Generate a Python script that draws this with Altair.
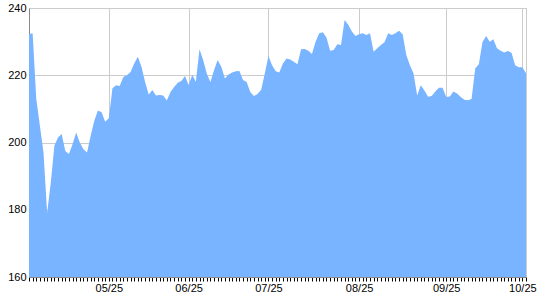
import altair as alt
import pandas as pd

values = [
    232.3, 232.5, 213.0, 205.0, 197.0, 179.0, 188.0, 199.0, 201.5, 202.5,
    197.5, 196.6, 199.5, 203.0, 200.0, 198.0, 197.0, 202.0, 206.5, 209.5,
    209.0, 206.2, 207.2, 216.1, 217.0, 216.8, 219.5, 220.0, 221.0, 223.5,
    225.5, 222.5, 218.0, 214.3, 215.6, 214.0, 214.1, 214.0, 212.5, 215.0,
    216.5, 217.8, 218.3, 219.8, 217.1, 220.1, 218.1, 227.7, 224.5, 220.5,
    218.0, 221.5, 224.5, 222.5, 219.0, 220.2, 220.8, 221.2, 221.3, 218.6,
    218.0, 215.0, 213.8, 214.4, 215.7, 220.5, 225.7, 223.0, 221.2, 220.8,
    223.5, 225.0, 224.7, 224.0, 223.3, 227.7, 227.8, 227.3, 226.3, 230.0,
    232.5, 232.8, 231.2, 227.3, 227.5, 229.2, 229.0, 236.4, 235.0, 233.0,
    231.7, 232.2, 232.5, 232.0, 232.5, 227.0, 228.0, 229.0, 229.8, 232.5,
    232.0, 232.5, 233.2, 232.2, 226.0, 223.0, 220.5, 214.0, 217.0, 215.5,
    213.6, 213.8, 215.2, 216.3, 216.3, 213.5, 213.7, 215.2, 214.6, 213.5,
    212.7, 212.6, 212.9, 222.0, 223.3, 229.8, 231.7, 230.0, 230.7, 228.0,
    227.3, 226.8, 227.2, 226.7, 223.0, 222.4, 222.4, 220.6,
]
label_positions = [22, 44, 66, 91, 115, 136]
tick_labels = ["05/25", "06/25", "07/25", "08/25", "09/25", "10/25"]
y_ticks = [160, 180, 200, 220, 240]

n = len(values)
df = pd.DataFrame({"idx": list(range(n)), "value": values})

pos_arr = "[" + ",".join(str(p) for p in label_positions) + "]"
lab_arr = "[" + ",".join("'" + t + "'" for t in tick_labels) + "]"
label_expr = f"indexof({pos_arr}, datum.value) >= 0 ? {lab_arr}[indexof({pos_arr}, datum.value)] : ''"
grid_test = f"indexof({pos_arr}, datum.value) >= 0"

chart = alt.Chart(df).mark_area(color="#78b4ff", clip=True, interpolate="linear").encode(
    x=alt.X(
        "idx:Q",
        scale=alt.Scale(domain=[0, n - 1], nice=False, zero=False),
        axis=alt.Axis(
            values=list(range(n)),
            labelExpr=label_expr,
            labelOverlap=False,
            labelFlush=False,
            tickSize=4,
            tickColor="black",
            grid=True,
            gridColor="#cccccc",
            gridOpacity={"condition": {"test": grid_test, "value": 1}, "value": 0},
            domainColor="#888888",
            labelFont="Liberation Sans",
            labelFontSize=11,
            labelColor="black",
            labelPadding=1,
            title=None,
        ),
    ),
    y=alt.Y(
        "value:Q",
        scale=alt.Scale(domain=[160, 240], nice=False, zero=False),
        axis=alt.Axis(
            values=y_ticks,
            tickSize=0,
            grid=True,
            gridColor="#cccccc",
            domainColor="#888888",
            labelFont="Liberation Sans",
            labelFontSize=11,
            labelColor="black",
            labelPadding=3,
            title=None,
        ),
    ),
).properties(
    width=497,
    height=269,
    autosize=alt.AutoSizeParams(type="none"),
    padding={"left": 29, "top": 8, "right": 14, "bottom": 23},
).configure_view(stroke="#cccccc")

chart.save("out.html", embed_options={"renderer": "svg", "actions": False})
